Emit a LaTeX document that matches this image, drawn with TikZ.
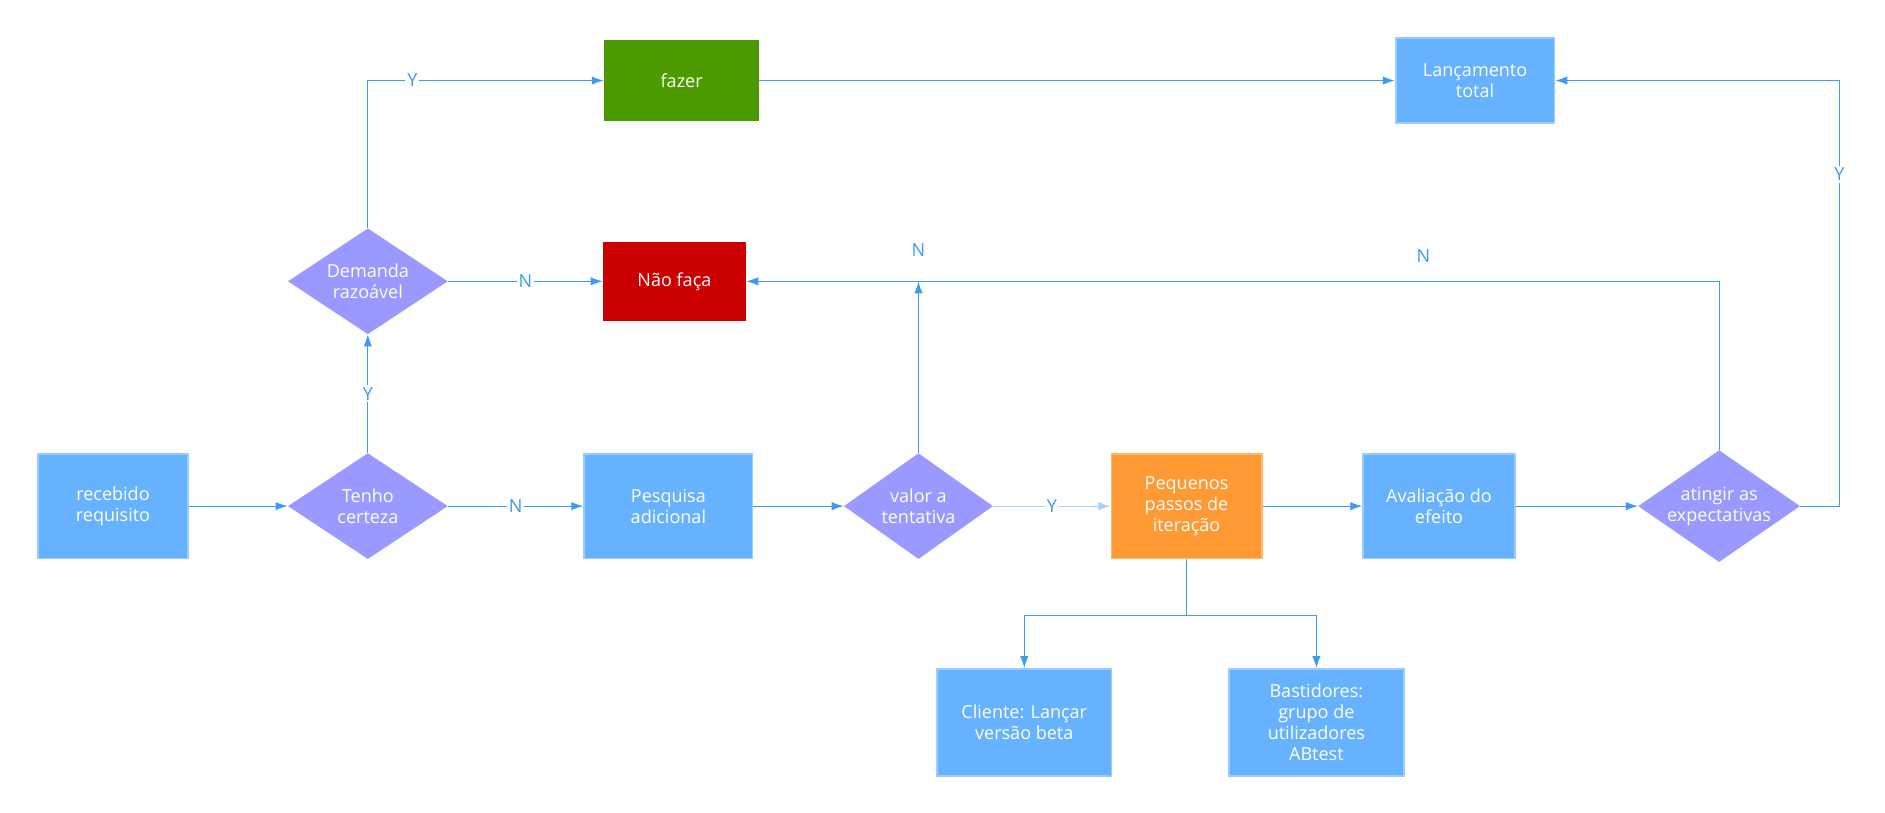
\documentclass[tikz,border=0pt]{standalone}
\usepackage{fontspec}
\setmainfont{Open Sans}
\usetikzlibrary{shapes.geometric,arrows.meta}
\definecolor{ln}{HTML}{3C9BF0}
\definecolor{bx}{HTML}{66B2FF}
\definecolor{bxb}{HTML}{99CCFF}
\definecolor{dm}{HTML}{9999FF}
\definecolor{og}{HTML}{FF9933}
\definecolor{ogb}{HTML}{FFB870}
\definecolor{gr}{HTML}{4C9900}
\definecolor{rd}{HTML}{CC0000}
\begin{document}
\begin{tikzpicture}[x=1pt,y=-1pt,
  font=\fontsize{15}{17.5}\selectfont,
  box/.style={draw=bxb,line width=1.5pt,fill=bx,text=white,minimum width=#1,align=center,inner sep=0pt},
  dia/.style={diamond,fill=dm,text=white,minimum width=133pt,minimum height=88pt,aspect=1.5,align=center,inner sep=0pt},
  ar/.style={draw=ln,line width=1pt,-{Latex[length=10pt,width=7pt]}},
  lab/.style={fill=white,text=ln,inner sep=1.5pt}]
\useasboundingbox (0,0) rectangle (1568,676);
\node[box=125pt,minimum height=87pt] (rec) at (94,421) {recebido\\requisito};
\node[dia] (ten) at (306,421) {Tenho\\certeza};
\node[box=140pt,minimum height=87pt] (pes) at (556,421) {Pesquisa\\adicional};
\node[dia,minimum width=124pt] (val) at (764,421) {valor a\\tentativa};
\node[box=125pt,minimum height=87pt,fill=og,draw=ogb] (peq) at (987,421) {Pequenos\\passos de\\iteração};
\node[box=126pt,minimum height=87pt] (ava) at (1197,421) {Avaliação do\\efeito};
\node[dia,minimum width=130pt,minimum height=93pt] (ati) at (1430,421) {atingir as\\expectativas};
\node[dia] (dem) at (306,234) {Demanda\\razoável};
\node[box=118pt,minimum height=64pt,fill=rd,draw=rd] (nao) at (561,234) {Não faça};
\node[box=128pt,minimum height=66pt,fill=gr,draw=gr] (faz) at (567,67) {fazer};
\node[box=132pt,minimum height=71pt] (lan) at (1227,67) {Lançamento\\total};
\node[box=145pt,minimum height=89pt] (cli) at (852,601) {Cliente: Lançar\\versão beta};
\node[box=146pt,minimum height=89pt] (bas) at (1095,601) {Bastidores:\\grupo de\\utilizadores\\ABtest};
\coordinate (nj) at (764,234);
\coordinate (sp) at (987,512);
\coordinate (tl) at (306,67);
\coordinate (rt) at (1530,67);
\draw[ar] (rec) -- (ten);
\draw[ar] (ten) -- node[lab]{N} (pes);
\draw[ar] (ten) -- node[lab]{Y} (dem);
\draw[ar] (dem) -- node[lab,pos=0.5]{N} (nao);
\draw[ar] (dem.north) -- (tl) -- (faz);
\node[lab] at (343,67) {Y};
\draw[ar] (faz) -- (lan);
\draw[ar] (pes) -- (val);
\draw[ar,draw=ln!45] (val) -- node[lab]{Y} (peq);
\draw[ar] (val.north) -- (nj);
\node[text=ln] (n1) at (764,208) {N};
\draw[ar] (ati.north) |- (nao.east);
\node[text=ln] (n2) at (1184,213) {N};
\draw[ar] (ati.east) -| (rt) -- (lan.east);
\node[lab] at (1530,145) {Y};
\draw[ar] (peq) -- (ava);
\draw[ar] (ava) -- (ati);
\draw[draw=ln,line width=1pt] (peq.south) -- (sp);
\draw[ar] (sp) -| (cli.north);
\draw[ar] (sp) -| (bas.north);
\end{tikzpicture}
\end{document}
